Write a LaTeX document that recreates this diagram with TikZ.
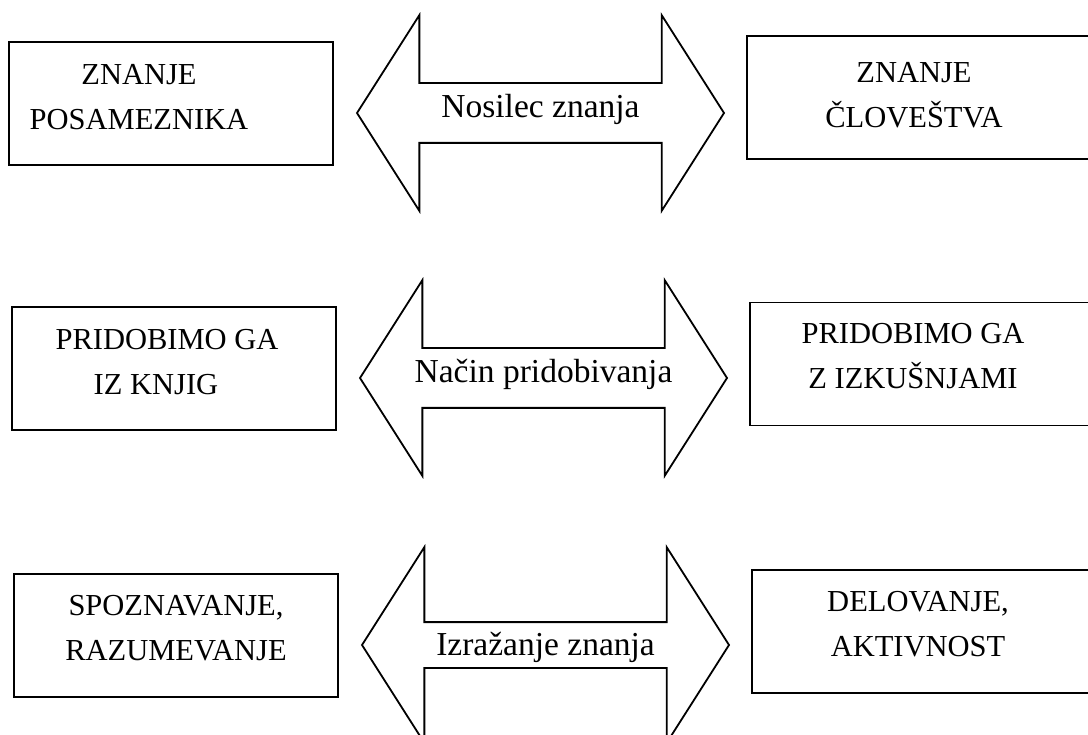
\documentclass[tikz,border=0pt]{standalone}
\usepackage{fontspec}
\setmainfont{Liberation Serif}
\usetikzlibrary{shapes,arrows,positioning}

\begin{document}
\begin{tikzpicture}[x=1pt,y=-1pt,line width=1.8pt,
  main node/.style={rectangle,draw,minimum width=324pt,minimum height=123pt,inner sep=0pt,outer sep=0pt},
  wide node/.style={main node,minimum width=350pt},
  arrow node/.style={double arrow,draw,double arrow tip angle=115,double arrow head extend=68pt,minimum height=367pt,inner xsep=0pt,inner ysep=29pt,outer sep=0pt},
  text node/.style={align=center,inner sep=0pt,font=\fontsize{30.5pt}{45pt}\selectfont},
  arrow text/.style={anchor=base,inner sep=0pt,font=\fontsize{33.5pt}{40pt}\selectfont}]
  \useasboundingbox (0,0) rectangle (1088,735);

  % row 1
  \node[main node] (1) at (171,103.5) {};
  \node[arrow node] (a1) [right=24pt of 1,yshift=-9.5pt] {};
  \node[wide node] (2) [right=23pt of a1,yshift=15.5pt] {};
  \node[text node] (t1) at ([xshift=-32pt,yshift=6.5pt]1.center) {ZNANJE\\POSAMEZNIKA};
  \node[text node] (t2) at ([xshift=167pt,yshift=2.5pt]2.west) {ZNANJE\\ČLOVEŠTVA};
  \node[arrow text] (l1) at ([yshift=-5pt]a1.center) {Nosilec znanja};

  % row 2
  \node[main node] (3) at (174,368.5) {};
  \node[arrow node] (a2) [right=24pt of 3,yshift=-9.5pt] {};
  \node[wide node] (4) [right=23pt of a2,yshift=14pt] {};
  \node[text node] (t3) at ([xshift=-7pt,yshift=6.5pt]3.center) {PRIDOBIMO GA\\IZ KNJIG\hspace*{22pt}};
  \node[text node] (t4) at ([xshift=163pt,yshift=7.5pt]4.west) {PRIDOBIMO GA\\Z IZKUŠNJAMI};
  \node[arrow text] (l2) at ([yshift=-5pt]a2.center) {Način pridobivanja};

  % row 3
  \node[main node] (5) at (176,635.5) {};
  \node[arrow node,inner ysep=22pt,double arrow head extend=75pt] (a3) [right=24pt of 5,yshift=-9.5pt] {};
  \node[wide node] (6) [right=23pt of a3,yshift=13.5pt] {};
  \node[text node] (t5) at ([yshift=7pt]5.center) {SPOZNAVANJE,\\RAZUMEVANJE};
  \node[text node] (t6) at ([xshift=166pt,yshift=7pt]6.west) {DELOVANJE,\\AKTIVNOST};
  \node[arrow text] (l3) at ([yshift=-10pt]a3.center) {Izražanje znanja};
\end{tikzpicture}
\end{document}
